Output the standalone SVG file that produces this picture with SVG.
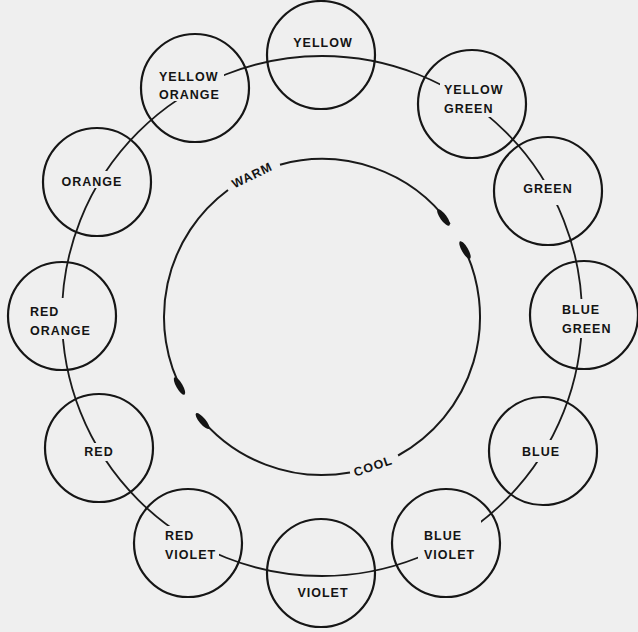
<svg xmlns="http://www.w3.org/2000/svg" width="638" height="632" viewBox="0 0 638 632">
<style>
.node{fill:none;stroke:#161616;stroke-width:2.2}
.lbl{font-family:"Liberation Sans",Arial,sans-serif;font-weight:bold;font-size:12.5px;letter-spacing:1px;fill:#141414}
.mid{text-anchor:middle}
.conn{fill:none;stroke:#1a1a1a;stroke-width:1.8}
.inner{fill:none;stroke:#1a1a1a;stroke-width:2}
.blob{fill:#141414}
.tag{font-family:"Liberation Sans",Arial,sans-serif;font-weight:bold;letter-spacing:1px;fill:#141414;text-anchor:middle}
</style>
<defs>
<mask id="gaps" maskUnits="userSpaceOnUse" x="0" y="0" width="638" height="632">
<rect x="0" y="0" width="638" height="632" fill="#fff"/>
<rect x="155" y="66" width="69" height="35" fill="#000"/>
<rect x="440" y="82" width="66" height="35" fill="#000"/>
<rect x="518" y="180" width="58" height="25" fill="#000"/>
<rect x="558" y="299" width="58" height="39" fill="#000"/>
<rect x="518" y="440" width="44" height="22" fill="#000"/>
<rect x="418" y="520" width="63" height="43" fill="#000"/>
<rect x="161" y="526" width="58" height="37" fill="#000"/>
<rect x="80" y="443" width="36" height="18" fill="#000"/>
<rect x="26" y="298" width="67" height="41" fill="#000"/>
<rect x="58" y="171" width="67" height="17" fill="#000"/>
</mask>
</defs>
<rect x="0" y="0" width="638" height="632" fill="#efefef"/>

<g id="connectors">
<circle class="conn" cx="322" cy="316" r="260" mask="url(#gaps)"/>
</g>

<g id="warm-cool">
<path class="inner" d="M 183.8 393.6 A 158 158 0 0 1 228.0 190.0"/>
<path class="inner" d="M 280.0 164.7 A 158 158 0 0 1 449.8 224.1"/>
<path class="inner" d="M 461.5 242.8 A 158 158 0 0 1 398.1 455.5"/>
<path class="inner" d="M 350.0 472.5 A 158 158 0 0 1 197.5 414.3"/>
<ellipse class="blob" cx="443.5" cy="217.5" rx="10" ry="3.2" transform="rotate(54 443.5 217.5)"/>
<ellipse class="blob" cx="465" cy="250" rx="10" ry="3.2" transform="rotate(60 465 250)"/>
<ellipse class="blob" cx="179.5" cy="386" rx="10" ry="3.2" transform="rotate(60 179.5 386)"/>
<ellipse class="blob" cx="202.5" cy="421" rx="10" ry="3.2" transform="rotate(50 202.5 421)"/>
<text class="tag" font-size="12.5" transform="translate(252,175) rotate(-26)" x="0" y="4.5">WARM</text>
<text class="tag" font-size="12.5" transform="translate(373,466) rotate(-19)" x="0" y="4.5">COOL</text>
</g>

<g id="yellow">
<circle class="node" cx="321" cy="55" r="54"/>
<text class="lbl mid" x="323" y="47">YELLOW</text>
</g>
<g id="yellow-orange">
<circle class="node" cx="195" cy="88" r="54"/>
<text class="lbl" x="159" y="80.5">YELLOW</text>
<text class="lbl" x="159" y="99">ORANGE</text>
</g>
<g id="orange">
<circle class="node" cx="97" cy="182" r="54"/>
<text class="lbl mid" x="92" y="185.5">ORANGE</text>
</g>
<g id="red-orange">
<circle class="node" cx="62" cy="316" r="54"/>
<text class="lbl" x="30" y="316">RED</text>
<text class="lbl" x="30" y="335">ORANGE</text>
</g>
<g id="red">
<circle class="node" cx="99" cy="448" r="54"/>
<text class="lbl mid" x="99" y="456">RED</text>
</g>
<g id="red-violet">
<circle class="node" cx="188" cy="543" r="54"/>
<text class="lbl" x="165" y="540">RED</text>
<text class="lbl" x="165" y="559">VIOLET</text>
</g>
<g id="violet">
<circle class="node" cx="321" cy="573" r="54"/>
<text class="lbl mid" x="323" y="597">VIOLET</text>
</g>
<g id="blue-violet">
<circle class="node" cx="446" cy="543" r="54"/>
<text class="lbl" x="424" y="540">BLUE</text>
<text class="lbl" x="424" y="559">VIOLET</text>
</g>
<g id="blue">
<circle class="node" cx="543" cy="451" r="54"/>
<text class="lbl mid" x="541" y="456">BLUE</text>
</g>
<g id="blue-green">
<circle class="node" cx="584" cy="315" r="54"/>
<text class="lbl" x="562" y="314">BLUE</text>
<text class="lbl" x="562" y="333">GREEN</text>
</g>
<g id="green">
<circle class="node" cx="548" cy="191" r="54"/>
<text class="lbl mid" x="548" y="193">GREEN</text>
</g>
<g id="yellow-green">
<circle class="node" cx="472" cy="104" r="54"/>
<text class="lbl" x="444" y="94">YELLOW</text>
<text class="lbl" x="444" y="113">GREEN</text>
</g>
</svg>
